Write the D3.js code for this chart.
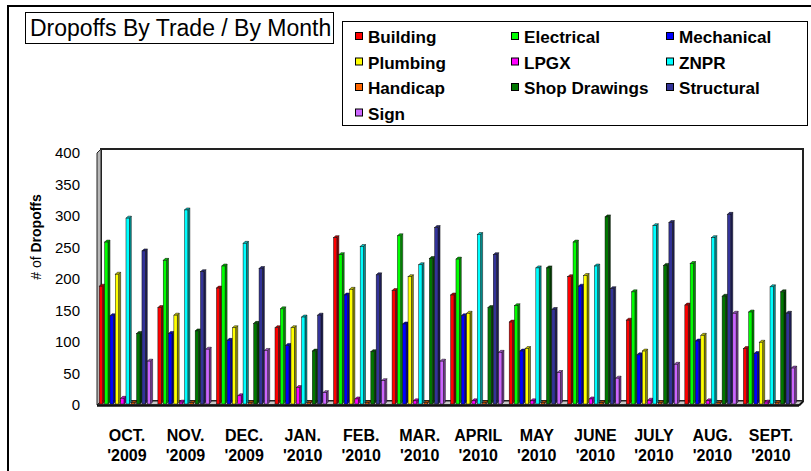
<!DOCTYPE html>
<html>
<head>
<meta charset="utf-8">
<script src="https://cdnjs.cloudflare.com/ajax/libs/d3/7.8.5/d3.min.js"></script>
<style>
  body { margin: 0; background: #fff; }
  svg { display: block; font-family: "Liberation Sans", Arial, sans-serif; }
</style>
</head>
<body>
<script>
// months along the x axis (two lines each)
var months = ["OCT.", "NOV.", "DEC.", "JAN.", "FEB.", "MAR.", "APRIL", "MAY", "JUNE", "JULY", "AUG.", "SEPT."];
var years = ["'2009", "'2009", "'2009", "'2010", "'2010", "'2010", "'2010", "'2010", "'2010", "'2010", "'2010", "'2010"];

var trades = ["Building", "Electrical", "Mechanical", "Plumbing", "LPGX", "ZNPR", "Handicap", "Shop Drawings", "Structural", "Sign"];
var colors = ["#ff0000", "#00ff00", "#0000ff", "#ffff00", "#ff00ff", "#00ffff", "#ff6600", "#007700", "#333399", "#cc66ff"];

// values per trade, one per month
var building     = [187, 153, 184, 121, 264, 180, 173, 130, 202, 133, 157, 88];
var electrical   = [257, 228, 219, 151, 237, 267, 230, 156, 257, 178, 223, 146];
var mechanical   = [140, 112, 101, 93, 173, 127, 140, 84, 187, 78, 100, 80];
var plumbing     = [206, 141, 121, 121, 182, 202, 144, 88, 204, 84, 109, 98];
var lpgx         = [9, 3, 13, 26, 8, 5, 5, 5, 8, 6, 5, 3];
var znpr         = [295, 308, 255, 138, 250, 221, 269, 216, 219, 283, 264, 186];
var handicap     = [2, 2, 2, 2, 2, 2, 2, 2, 2, 2, 2, 2];
var shop         = [112, 116, 128, 84, 83, 231, 153, 216, 297, 220, 171, 178];
var structural   = [243, 210, 215, 141, 205, 280, 237, 150, 183, 288, 301, 144];
var sign         = [68, 87, 85, 18, 37, 68, 82, 50, 41, 63, 144, 57];
var series = [building, electrical, mechanical, plumbing, lpgx, znpr, handicap, shop, structural, sign];

var yTicks = [0, 50, 100, 150, 200, 250, 300, 350, 400];

var W = 811, H = 471;
var plot = {left: 97, right: 799, top: 153, bottom: 405};
var wd = 4;   // wall depth
var bd = 2;   // bar depth

var svg = d3.select("body").append("svg")
  .attr("width", W)
  .attr("height", H);

// outer frame
svg.append("rect")
  .attr("x", 8).attr("y", 6)
  .attr("width", W + 20).attr("height", H + 20)
  .attr("fill", "none")
  .attr("stroke", "#000")
  .attr("stroke-width", 2);

// title box
svg.append("rect")
  .attr("x", 25.5).attr("y", 12.5)
  .attr("width", 308).attr("height", 31)
  .attr("fill", "#fff")
  .attr("stroke", "#000");
svg.append("text")
  .attr("x", 30).attr("y", 36)
  .style("font-size", "23px")
  .text("Dropoffs By Trade / By Month");

// legend
var legendBox = svg.append("g");
legendBox.append("rect")
  .attr("x", 342.5).attr("y", 21.5)
  .attr("width", 465).attr("height", 104)
  .attr("fill", "#fff")
  .attr("stroke", "#000");

var colX = [355, 511, 666];
var legend = legendBox.selectAll(".legend")
  .data(trades)
  .enter().append("g")
  .attr("class", "legend")
  .attr("transform", function(d, i) {
    return "translate(" + colX[i % 3] + "," + (43 + Math.floor(i / 3) * 25.5) + ")";
  });

legend.append("rect")
  .attr("x", 0.5).attr("y", -10.5)
  .attr("width", 7).attr("height", 7)
  .attr("fill", function(d, i) { return colors[i]; })
  .attr("stroke", "#000");

legend.append("text")
  .attr("transform", "translate(13,0) scale(1.07,1)")
  .style("font-size", "16px")
  .style("font-weight", "bold")
  .text(function(d) { return d; });

// scales
var y = d3.scaleLinear()
  .domain([0, 400])
  .range([plot.bottom, plot.top]);

var x0 = d3.scaleBand()
  .domain(months)
  .range([plot.left, plot.right])
  .paddingInner(0.09)
  .paddingOuter(0.04);

var x1 = d3.scaleBand()
  .domain(trades)
  .range([0, x0.bandwidth()]);

// walls: left side wall, back wall, floor
var back = svg.append("g");
back.append("rect")
  .attr("x", plot.left + wd).attr("y", y(400) - wd)
  .attr("width", plot.right - plot.left).attr("height", y(0) - y(400))
  .attr("fill", "#fff")
  .attr("stroke", "#222")
  .attr("stroke-width", 2);

back.append("path")
  .attr("d", "M" + plot.left + "," + y(0) + "L" + plot.left + "," + y(400) +
    "L" + (plot.left + wd) + "," + (y(400) - wd) + "L" + (plot.left + wd) + "," + (y(0) - wd) + "Z")
  .attr("fill", "#b8b8b8")
  .attr("stroke", "#222")
  .attr("stroke-width", 1);

back.append("path")
  .attr("d", "M" + plot.left + "," + y(0) + "L" + (plot.left + wd) + "," + (y(0) - wd) +
    "L" + (plot.right + wd) + "," + (y(0) - wd) + "L" + plot.right + "," + y(0) + "Z")
  .attr("fill", "#c8c8c8")
  .attr("stroke", "#222")
  .attr("stroke-width", 1);

// bars
var data = [];
months.forEach(function(m, mi) {
  trades.forEach(function(t, ti) {
    data.push({month: m, trade: t, ti: ti, value: series[ti][mi]});
  });
});

var base = y(0) - 1;
var barW = x1.bandwidth() - bd;

var bars = svg.append("g").selectAll(".bar")
  .data(data)
  .enter().append("g")
  .attr("class", "bar")
  .attr("transform", function(d) { return "translate(" + (x0(d.month) + x1(d.trade)) + ",0)"; });

// side face
bars.append("path")
  .attr("d", function(d) {
    var top = y(d.value) - 1;
    return "M" + barW + "," + top + "L" + (barW + bd) + "," + (top - bd) +
      "L" + (barW + bd) + "," + (base - bd) + "L" + barW + "," + base + "Z";
  })
  .attr("fill", function(d) { return d3.color(colors[d.ti]).darker(1.6); })
  .attr("stroke", "#111")
  .attr("stroke-width", 0.5);

// top face
bars.append("path")
  .attr("d", function(d) {
    var top = y(d.value) - 1;
    return "M0," + top + "L" + bd + "," + (top - bd) + "L" + (barW + bd) + "," + (top - bd) +
      "L" + barW + "," + top + "Z";
  })
  .attr("fill", function(d) { return d3.color(colors[d.ti]).darker(0.8); })
  .attr("stroke", "#111")
  .attr("stroke-width", 0.5);

// front face
bars.append("rect")
  .attr("x", 0)
  .attr("y", function(d) { return y(d.value) - 1; })
  .attr("width", barW)
  .attr("height", function(d) { return base - y(d.value) + 1; })
  .attr("fill", function(d) { return colors[d.ti]; })
  .attr("stroke", "#111")
  .attr("stroke-width", 0.5);

// front floor edge
svg.append("line")
  .attr("x1", plot.left).attr("x2", plot.right)
  .attr("y1", y(0) + 0.5).attr("y2", y(0) + 0.5)
  .attr("stroke", "#111")
  .attr("stroke-width", 2.5);
svg.append("line")
  .attr("x1", plot.right).attr("x2", plot.right + wd)
  .attr("y1", y(0) + 0.5).attr("y2", y(0) - wd + 0.5)
  .attr("stroke", "#111")
  .attr("stroke-width", 2);

// y axis labels
var yAxis = d3.axisLeft(y)
  .tickValues(yTicks)
  .tickSize(0)
  .tickPadding(0);
var ya = svg.append("g")
  .attr("transform", "translate(80,0)")
  .call(yAxis);
ya.select(".domain").remove();
ya.selectAll("text")
  .style("font-size", "15px")
  .style("font-family", "Liberation Sans, Arial, sans-serif")
  .attr("fill", "#000");

// y axis title
var yt = svg.append("text")
  .attr("transform", "translate(41,237) rotate(-90)")
  .style("text-anchor", "middle")
  .style("font-size", "14px");
yt.append("tspan").text("# of ");
yt.append("tspan").style("font-weight", "bold").text("Dropoffs");

// x labels
var xl = svg.append("g").selectAll(".xlab")
  .data(months)
  .enter().append("text")
  .attr("class", "xlab")
  .attr("x", function(d) { return x0(d) + x0.bandwidth() / 2 + 1; })
  .attr("y", 441)
  .style("text-anchor", "middle")
  .style("font-size", "16px")
  .style("font-weight", "bold");
xl.append("tspan").text(function(d) { return d; });
xl.append("tspan")
  .attr("x", function(d) { return x0(d) + x0.bandwidth() / 2 + 1; })
  .attr("dy", 20)
  .text(function(d, i) { return years[i]; });
</script>
</body>
</html>
